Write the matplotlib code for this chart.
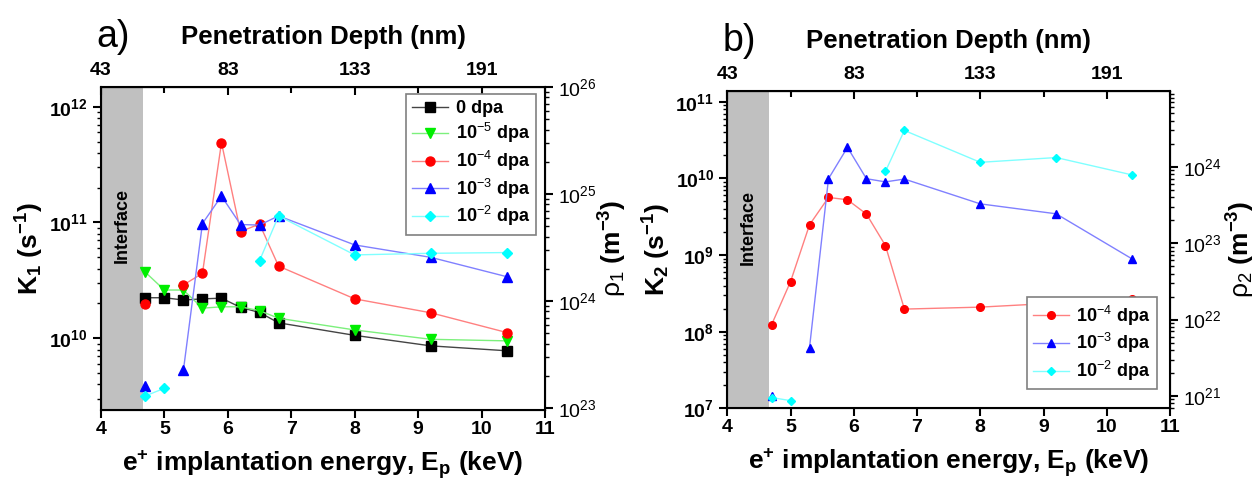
import numpy as np
import matplotlib.pyplot as plt
from matplotlib.ticker import LogLocator, FuncFormatter, NullFormatter

plt.rcParams['font.family'] = ['Liberation Sans', 'DejaVu Sans']
plt.rcParams['mathtext.fontset'] = 'custom'
plt.rcParams['mathtext.rm'] = 'Liberation Sans'
plt.rcParams['mathtext.bf'] = 'Liberation Sans:bold'
plt.rcParams['mathtext.it'] = 'Liberation Sans:italic'

nan = np.nan

# e+ implantation energy (keV)
energy = [4.7, 5.0, 5.3, 5.6, 5.9, 6.2, 6.5, 6.8, 8.0, 9.2, 10.4]

# panel a) K1 (s^-1)
k1_0dpa = [2.24e10, 2.24e10, 2.14e10, 2.19e10, 2.22e10, 1.85e10, 1.67e10, 1.36e10, 1.06e10, 8.6e9, 7.8e9]
k1_1e5 = [3.72e10, 2.61e10, 2.61e10, 1.82e10, 1.87e10, 1.87e10, 1.73e10, 1.49e10, 1.18e10, 9.8e9, 9.5e9]
k1_1e4 = [1.98e10, nan, 2.89e10, 3.64e10, 4.89e11, 8.34e10, 9.7e10, 4.2e10, 2.19e10, 1.66e10, 1.12e10]
k1_1e3 = [3.87e9, nan, 5.3e9, 9.8e10, 1.69e11, 9.6e10, 9.5e10, 1.14e11, 6.4e10, 5.0e10, 3.4e10]
k1_1e2 = [3.18e9, 3.7e9, nan, nan, nan, nan, 4.68e10, 1.14e11, 5.25e10, 5.42e10, 5.5e10]

# panel b) K2 (s^-1)
k2_1e4 = [1.23e8, 4.5e8, 2.48e9, 5.64e9, 5.26e9, 3.42e9, 1.33e9, 1.97e8, 2.09e8, 2.36e8, 2.68e8]
k2_1e3 = [1.45e7, nan, 6.2e7, 9.9e9, 2.54e10, 9.9e9, 9.0e9, 9.8e9, 4.65e9, 3.45e9, 8.9e8]
k2_1e2 = [1.38e7, 1.26e7, nan, nan, nan, nan, 1.23e10, 4.22e10, 1.62e10, 1.87e10, 1.11e10]

# top axis: penetration depth (nm)
depth_pos = [4, 6, 8, 10]
depth_labels = ['43', '83', '133', '191']

# (label, line colour, marker colour, marker)
styles = {
    '0': ('0 dpa', '#444444', 'black', 's'),
    '5': (r'10$^{-5}$ dpa', '#7cf07c', '#00ee00', 'v'),
    '4': (r'10$^{-4}$ dpa', '#ff8080', 'red', 'o'),
    '3': (r'10$^{-3}$ dpa', '#8080ff', 'blue', '^'),
    '2': (r'10$^{-2}$ dpa', '#80ffff', 'cyan', 'D'),
}


def bold_pow(v, pos):
    return r'$\mathbf{10^{%d}}$' % round(np.log10(v))


def plain_pow(v, pos):
    return r'$\mathrm{10^{%d}}$' % round(np.log10(v))


def setup(ax, ylim, rlim, ylabel, rlabel, tag, rpad):
    ax.set_xlim(4, 11)
    ax.set_yscale('log')
    ax.set_ylim(*ylim)
    ax.axvspan(4, 4.66, color='#c0c0c0', lw=0, zorder=0)
    ax.set_xticks(range(4, 12))
    ax.set_xticklabels([str(i) for i in range(4, 12)], fontweight='bold')
    ax.yaxis.set_major_locator(LogLocator(base=10, numticks=20))
    ax.yaxis.set_minor_locator(LogLocator(base=10, subs=np.arange(2, 10), numticks=20))
    ax.yaxis.set_major_formatter(FuncFormatter(bold_pow))
    ax.yaxis.set_minor_formatter(NullFormatter())
    ax.tick_params(axis='both', which='major', labelsize=14, length=6, width=1.5, direction='out')
    ax.tick_params(axis='x', which='major', pad=2)
    ax.tick_params(axis='y', which='minor', length=3, width=1, direction='out')
    ax.tick_params(top=False, right=False)
    for s in ax.spines.values():
        s.set_linewidth(1.5)
    ax.set_xlabel(r'e$^\mathbf{+}$ implantation energy, E$_\mathbf{p}$ (keV)',
                  fontsize=19, fontweight='bold', labelpad=7)
    ax.set_ylabel(ylabel, fontsize=19, fontweight='bold', labelpad=2)

    top = ax.secondary_xaxis('top')
    top.set_xticks(depth_pos)
    top.set_xticklabels(depth_labels, fontweight='bold')
    top.set_xticks([5, 7, 9, 11], minor=True)
    top.tick_params(which='major', direction='in', length=6, width=1.5, labelsize=14, pad=6)
    top.tick_params(which='minor', direction='in', length=4, width=1.5)
    top.set_xlabel('Penetration Depth (nm)', fontsize=18.5, fontweight='bold', labelpad=13)

    rax = ax.twinx()
    rax.set_yscale('log')
    rax.set_ylim(*rlim)
    rax.yaxis.set_major_locator(LogLocator(base=10, numticks=20))
    rax.yaxis.set_minor_locator(LogLocator(base=10, subs=np.arange(2, 10), numticks=20))
    rax.yaxis.set_major_formatter(FuncFormatter(plain_pow))
    rax.yaxis.set_minor_formatter(NullFormatter())
    rax.tick_params(which='major', labelsize=14, length=6, width=1.5, direction='out')
    rax.tick_params(which='minor', length=3, width=1, direction='out')
    rax.set_ylabel(rlabel, fontsize=19, labelpad=rpad)

    ax.text(4.33, 0.57, 'Interface', rotation=90, ha='center', va='center',
            fontsize=13, fontweight='bold', transform=ax.get_xaxis_transform())
    ax.text(-0.01, 1.10, tag, fontsize=27, transform=ax.transAxes, ha='left', va='bottom')


def draw(ax, series, ms):
    for key, vals in series:
        label, lc, mc, mk = styles[key]
        m = ms - 1 if mk == 'D' else ms
        ax.plot(energy, vals, color=lc, lw=1, marker=mk, ms=m, mfc=mc, mec=mc, label=label, zorder=3)


fig = plt.figure(figsize=(12.57, 4.87), dpi=100)
ax1 = fig.add_axes([0.0803, 0.158, 0.3533, 0.6634])
ax2 = fig.add_axes([0.5786, 0.1616, 0.3522, 0.6515])

draw(ax1, [('0', k1_0dpa), ('5', k1_1e5), ('4', k1_1e4), ('3', k1_1e3), ('2', k1_1e2)], 6.5)
draw(ax2, [('4', k2_1e4), ('3', k2_1e3), ('2', k2_1e2)], 5.5)

setup(ax1, (2.4e9, 1.48e12), (0.96e23, 1e26),
      r'$\mathbf{K_1\ (s^{-1})}$', r'$\mathrm{\rho_1}\ \mathbf{(m^{-3})}$', 'a)', 0)
setup(ax2, (1e7, 1.38e11), (6.9e20, 9.8e24),
      r'$\mathbf{K_2\ (s^{-1})}$', r'$\mathrm{\rho_2}\ \mathbf{(m^{-3})}$', 'b)', 2)

leg_kw = dict(fancybox=False, framealpha=1, edgecolor='#808080', handlelength=2.0,
              prop={'weight': 'bold', 'size': 13}, labelspacing=0.2, borderpad=0.35,
              handletextpad=0.4, borderaxespad=0)
l1 = ax1.legend(loc='upper right', bbox_to_anchor=(0.98, 0.978), **leg_kw)
l2 = ax2.legend(loc='lower right', bbox_to_anchor=(0.97, 0.06), **leg_kw)
for lg in (l1, l2):
    lg.get_frame().set_linewidth(1.2)
    lg.set_zorder(10)

fig.savefig('out.png', dpi=100)
